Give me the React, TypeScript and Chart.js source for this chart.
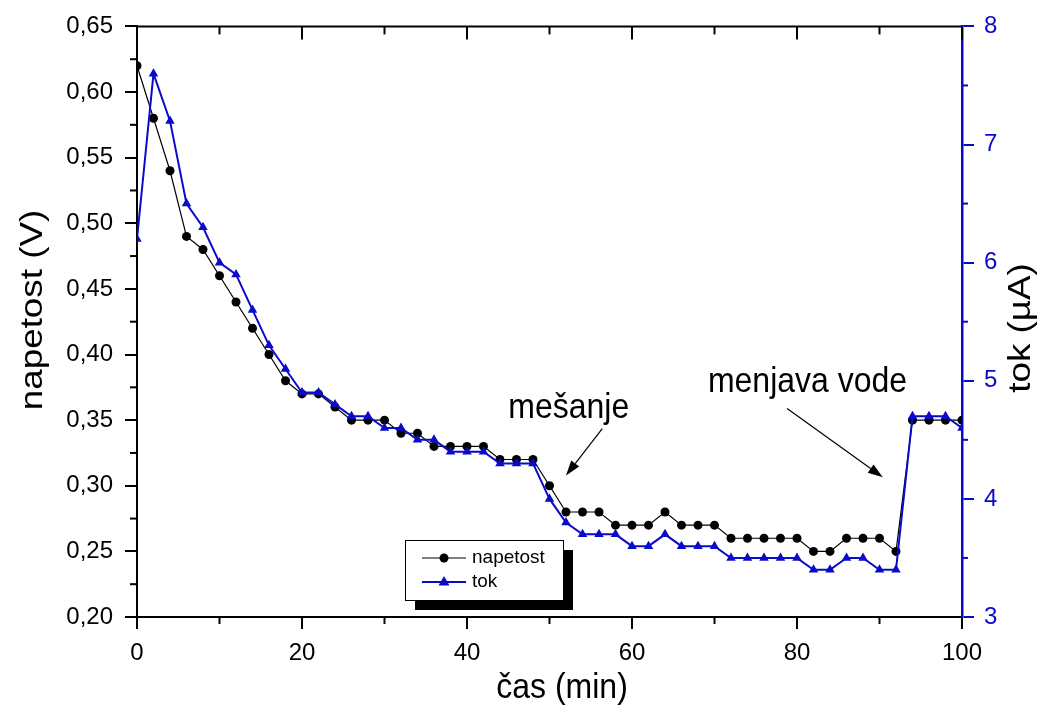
import React, { useEffect, useRef } from 'react';
import { Chart, registerables } from 'chart.js';

Chart.register(...registerables);

const timeMin = [
  0, 2, 4, 6, 8, 10, 12, 14, 16, 18, 20, 22, 24, 26, 28, 30, 32, 34, 36, 38, 40, 42, 44, 46, 48, 50,
  52, 54, 56, 58, 60, 62, 64, 66, 68, 70, 72, 74, 76, 78, 80, 82, 84, 86, 88, 90, 92, 94, 96, 98, 100,
];
const napetost = [
  0.62, 0.58, 0.54, 0.49, 0.48, 0.46, 0.44, 0.42, 0.40, 0.38, 0.37, 0.37, 0.36, 0.35, 0.35, 0.35, 0.34,
  0.34, 0.33, 0.33, 0.33, 0.33, 0.32, 0.32, 0.32, 0.30, 0.28, 0.28, 0.28, 0.27, 0.27, 0.27, 0.28, 0.27,
  0.27, 0.27, 0.26, 0.26, 0.26, 0.26, 0.26, 0.25, 0.25, 0.26, 0.26, 0.26, 0.25, 0.35, 0.35, 0.35, 0.35,
];
const tok = [
  6.2, 7.6, 7.2, 6.5, 6.3, 6.0, 5.9, 5.6, 5.3, 5.1, 4.9, 4.9, 4.8, 4.7, 4.7, 4.6, 4.6, 4.5, 4.5, 4.4,
  4.4, 4.4, 4.3, 4.3, 4.3, 4.0, 3.8, 3.7, 3.7, 3.7, 3.6, 3.6, 3.7, 3.6, 3.6, 3.6, 3.5, 3.5, 3.5, 3.5,
  3.5, 3.4, 3.4, 3.5, 3.5, 3.4, 3.4, 4.7, 4.7, 4.7, 4.6,
];

const xMinorTicks = [10, 30, 50, 70, 90];
const xTopTicks = [0, 10, 20, 30, 40, 50, 60, 70, 80, 90, 100];
const yMinorTicks = [0.225, 0.275, 0.325, 0.375, 0.425, 0.475, 0.525, 0.575, 0.625];
const y2MinorTicks = [3.5, 4.5, 5.5, 6.5, 7.5];

const seriesLabels = ['napetost', 'tok'];
const xTitle = 'čas (min)';
const yTitle = 'napetost (V)';
const y2Title = 'tok (µA)';

// annotations (data coordinates)
const annotMesanje = { text: 'mešanje', x: 45, y: 0.359, fromX: 56.4, fromY: 0.3436, toX: 52.0, toY: 0.3079 };
const annotVoda = { text: 'menjava vode', x: 69.2, y: 0.3786, fromX: 78.8, fromY: 0.3588, toX: 90.4, toY: 0.3064 };

const BLUE = '#0a0ac8';
const FONT = "'Liberation Sans', Arial, sans-serif";

function drawArrow(ctx: CanvasRenderingContext2D, x1: number, y1: number, x2: number, y2: number) {
  const ang = Math.atan2(y2 - y1, x2 - x1);
  const headLen = 15;
  const headW = 5;
  const bx = x2 - headLen * Math.cos(ang);
  const by = y2 - headLen * Math.sin(ang);
  ctx.save();
  ctx.strokeStyle = '#000';
  ctx.fillStyle = '#000';
  ctx.lineWidth = 1.2;
  ctx.beginPath();
  ctx.moveTo(x1, y1);
  ctx.lineTo(bx, by);
  ctx.stroke();
  ctx.beginPath();
  ctx.moveTo(x2, y2);
  ctx.lineTo(bx + headW * Math.sin(ang), by - headW * Math.cos(ang));
  ctx.lineTo(bx - headW * Math.sin(ang), by + headW * Math.cos(ang));
  ctx.closePath();
  ctx.fill();
  ctx.restore();
}

const decorPlugin = {
  id: 'decor',
  afterDraw(chart: any) {
    const ctx: CanvasRenderingContext2D = chart.ctx;
    const { left, right, top, bottom } = chart.chartArea;
    const xs = chart.scales.x;
    const ys = chart.scales.y;
    const y2s = chart.scales.y2;
    ctx.save();
    // top frame line
    ctx.strokeStyle = '#000';
    ctx.lineWidth = 2;
    ctx.beginPath();
    ctx.moveTo(left - 1, top);
    ctx.lineTo(right, top);
    ctx.stroke();
    // top inward ticks
    xTopTicks.forEach((v) => {
      const px = xs.getPixelForValue(v);
      const len = v % 20 === 0 ? 13 : 8;
      ctx.beginPath();
      ctx.moveTo(px, top);
      ctx.lineTo(px, top + len);
      ctx.stroke();
    });
    // bottom minor ticks
    xMinorTicks.forEach((v) => {
      const px = xs.getPixelForValue(v);
      ctx.beginPath();
      ctx.moveTo(px, bottom);
      ctx.lineTo(px, bottom + 7);
      ctx.stroke();
    });
    // left minor ticks
    yMinorTicks.forEach((v) => {
      const py = ys.getPixelForValue(v);
      ctx.beginPath();
      ctx.moveTo(left, py);
      ctx.lineTo(left - 7, py);
      ctx.stroke();
    });
    // right minor ticks
    ctx.strokeStyle = BLUE;
    y2MinorTicks.forEach((v) => {
      const py = y2s.getPixelForValue(v);
      ctx.beginPath();
      ctx.moveTo(right, py);
      ctx.lineTo(right + 6, py);
      ctx.stroke();
    });

    // axis titles
    ctx.fillStyle = '#000';
    ctx.font = `32px ${FONT}`;
    ctx.textAlign = 'center';
    ctx.textBaseline = 'middle';
    ctx.save();
    ctx.translate(562, 688);
    ctx.scale(1, 1.1);
    ctx.fillText(xTitle, 0, 0);
    ctx.restore();
    ctx.save();
    ctx.translate(33, 310);
    ctx.rotate(-Math.PI / 2);
    ctx.scale(1.15, 1);
    ctx.fillText(yTitle, 0, 0);
    ctx.restore();
    ctx.save();
    ctx.translate(1021, 328);
    ctx.rotate(-Math.PI / 2);
    ctx.scale(1.15, 1);
    ctx.fillText(y2Title, 0, 0);
    ctx.restore();

    // annotations
    [annotMesanje, annotVoda].forEach((a) => {
      ctx.save();
      ctx.font = `32px ${FONT}`;
      ctx.textAlign = 'left';
      ctx.textBaseline = 'middle';
      ctx.fillStyle = '#000';
      ctx.translate(xs.getPixelForValue(a.x), ys.getPixelForValue(a.y));
      ctx.scale(1, 1.1);
      ctx.fillText(a.text, 0, 0);
      ctx.restore();
      drawArrow(
        ctx,
        xs.getPixelForValue(a.fromX),
        ys.getPixelForValue(a.fromY),
        xs.getPixelForValue(a.toX),
        ys.getPixelForValue(a.toY)
      );
    });

    // legend box with shadow
    const lx = 405, ly = 540, lw = 158, lh = 60;
    ctx.fillStyle = '#000';
    ctx.fillRect(lx + 10, ly + 10, lw, lh);
    ctx.fillStyle = '#fff';
    ctx.fillRect(lx, ly, lw, lh);
    ctx.strokeStyle = '#000';
    ctx.lineWidth = 1;
    ctx.strokeRect(lx + 0.5, ly + 0.5, lw, lh);
    // row 1
    ctx.beginPath();
    ctx.moveTo(422, 558);
    ctx.lineTo(466, 558);
    ctx.stroke();
    ctx.fillStyle = '#000';
    ctx.beginPath();
    ctx.arc(444, 558, 4.5, 0, Math.PI * 2);
    ctx.fill();
    // row 2
    ctx.strokeStyle = BLUE;
    ctx.lineWidth = 2;
    ctx.beginPath();
    ctx.moveTo(422, 582);
    ctx.lineTo(466, 582);
    ctx.stroke();
    ctx.fillStyle = BLUE;
    ctx.beginPath();
    ctx.moveTo(444, 576);
    ctx.lineTo(449.5, 585.5);
    ctx.lineTo(438.5, 585.5);
    ctx.closePath();
    ctx.fill();
    ctx.fillStyle = '#000';
    ctx.font = `19px ${FONT}`;
    ctx.textAlign = 'left';
    ctx.textBaseline = 'middle';
    ctx.fillText(seriesLabels[0], 472, 558);
    ctx.fillText(seriesLabels[1], 472, 582);
    ctx.restore();
  },
};

export default function App() {
  const canvasRef = useRef<HTMLCanvasElement | null>(null);

  useEffect(() => {
    if (!canvasRef.current) return;
    const chart = new Chart(canvasRef.current, {
      type: 'line',
      data: {
        datasets: [
          {
            label: seriesLabels[0],
            data: timeMin.map((t, i) => ({ x: t, y: napetost[i] })),
            yAxisID: 'y',
            borderColor: '#000',
            backgroundColor: '#000',
            borderWidth: 1.2,
            pointRadius: 4.5,
            pointStyle: 'circle',
            pointBorderWidth: 0,
            order: 1,
          },
          {
            label: seriesLabels[1],
            data: timeMin.map((t, i) => ({ x: t, y: tok[i] })),
            yAxisID: 'y2',
            borderColor: BLUE,
            backgroundColor: BLUE,
            borderWidth: 2,
            pointRadius: 5.5,
            pointStyle: 'triangle',
            pointBorderWidth: 0,
            order: 0,
          },
        ],
      },
      options: {
        animation: false,
        responsive: false,
        maintainAspectRatio: false,
        layout: { padding: { top: 25, left: 0, right: 0, bottom: 0 } },
        plugins: { legend: { display: false }, tooltip: { enabled: false } },
        scales: {
          x: {
            type: 'linear',
            position: 'bottom',
            min: 0,
            max: 100,
            ticks: { stepSize: 20, color: '#000', font: { size: 24, family: FONT }, padding: 10, maxRotation: 0 },
            grid: { drawOnChartArea: false, drawTicks: true, tickLength: 12, color: '#000', lineWidth: 2 },
            border: { display: true, color: '#000', width: 2 },
            afterFit: (s: any) => { s.height = 100; },
          },
          y: {
            type: 'linear',
            position: 'left',
            min: 0.2,
            max: 0.65,
            ticks: {
              stepSize: 0.05,
              color: '#000',
              font: { size: 24, family: FONT },
              padding: 12,
              callback: (v: any) => Number(v).toFixed(2).replace('.', ','),
            },
            grid: { drawOnChartArea: false, drawTicks: true, tickLength: 12, color: '#000', lineWidth: 2 },
            border: { display: true, color: '#000', width: 2 },
            afterFit: (s: any) => { s.width = 137; },
          },
          y2: {
            type: 'linear',
            position: 'right',
            min: 3,
            max: 8,
            ticks: { stepSize: 1, color: BLUE, font: { size: 24, family: FONT }, padding: 10 },
            grid: { drawOnChartArea: false, drawTicks: true, tickLength: 12, color: BLUE, lineWidth: 2 },
            border: { display: true, color: BLUE, width: 2.5 },
            afterFit: (s: any) => { s.width = 83; },
          },
        },
      },
      plugins: [decorPlugin],
    });
    return () => chart.destroy();
  }, []);

  return (
    <div style={{ position: 'fixed', left: 0, top: 0, width: 1045, height: 717, background: '#fff' }}>
      <canvas ref={canvasRef} width={1045} height={717} style={{ width: 1045, height: 717 }} />
    </div>
  );
}
